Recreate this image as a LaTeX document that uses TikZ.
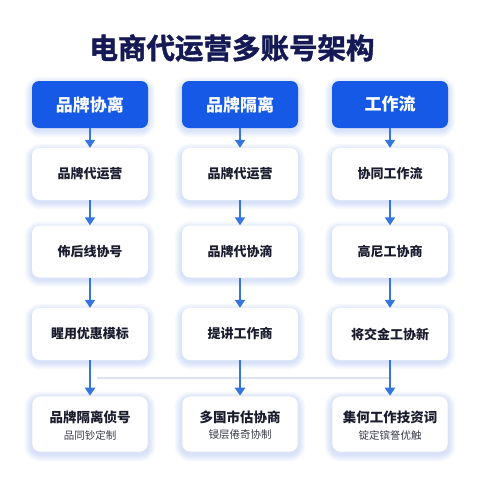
\documentclass[tikz,border=0pt]{standalone}
\usepackage{fontspec}
\newfontfamily\cjk{Noto Sans CJK SC}
\newfontfamily\cjkheavy[BoldFont={Noto Sans CJK SC Bold},BoldFeatures={FakeBold=1.6}]{Noto Sans CJK SC}
\usetikzlibrary{arrows.meta,backgrounds,calc}
\definecolor{hdrblue}{HTML}{1559E6}
\definecolor{arrblue}{HTML}{3575E0}
\definecolor{titlenavy}{HTML}{151A55}
\definecolor{txtdark}{HTML}{1A1C2E}
\definecolor{subgray}{HTML}{3A3C48}
\definecolor{shblue}{HTML}{6E96EA}
\definecolor{hline}{HTML}{DCE4F2}
\tikzset{
  hdr/.style={draw=none, fill=hdrblue, rounded corners=7pt, minimum width=116pt, minimum height=47pt,
    text=white, font=\cjk\bfseries\fontsize{17}{20}\selectfont, inner sep=0pt},
  card/.style={draw=none, fill=white, rounded corners=8pt, minimum width=116pt, minimum height=52pt,
    text=txtdark, font=\cjk\bfseries\fontsize{13}{16}\selectfont, inner sep=0pt},
  cardb/.style={card, minimum height=56pt, draw=hline, line width=0.6pt},
  flow/.style={draw=arrblue, line width=2.4pt, -{Triangle[width=10pt,length=8pt]}},
  shadowlayer/.style={fill=shblue, opacity=0.04},
  hlink/.style={draw=hline, line width=1.2pt},
}
\begin{document}
\begin{tikzpicture}[x=1pt,y=-1pt]
\useasboundingbox (0,0) rectangle (480,480);
\node[text=titlenavy, font=\cjkheavy\bfseries\fontsize{28.5}{32}\selectfont] (title) at (232,48) {电商代运营多账号架构};
% headers
\node[hdr] (h1) at (90,104.5) {品牌协离};
\node[hdr] (h2) at (240,104.5) {品牌隔离};
\node[hdr] (h3) at (390,104.5) {工作流};
% row 2
\node[card] (a1) at (90,174) {品牌代运营};
\node[card] (a2) at (240,174) {品牌代运营};
\node[card] (a3) at (390,174) {协同工作流};
% row 3
\node[card] (b1) at (90,251.5) {佈后线协号};
\node[card] (b2) at (240,251.5) {品牌代协滴};
\node[card] (b3) at (390,251.5) {高尼工协商};
% row 4
\node[card] (c1) at (90,334) {睲用优惠模标};
\node[card] (c2) at (240,334) {提讲工作商};
\node[card] (c3) at (390,334) {将交金工协新};
% row 5
\node[cardb] (d1) at (90,424) {};
\node[cardb] (d2) at (240,424) {};
\node[cardb] (d3) at (390,424) {};
\node[font=\cjk\bfseries\fontsize{13.5}{16}\selectfont, text=txtdark] (d1t) at (90,417) {品牌隔离侦号};
\node[font=\cjk\fontsize{10.5}{12}\selectfont, text=subgray] (d1s) at (90,435) {品同钞定制};
\node[font=\cjk\bfseries\fontsize{13.5}{16}\selectfont, text=txtdark] (d2t) at (240,417) {多国市估协商};
\node[font=\cjk\fontsize{10.5}{12}\selectfont, text=subgray] (d2s) at (240,435) {锓层倦奇协制};
\node[font=\cjk\bfseries\fontsize{13.5}{16}\selectfont, text=txtdark] (d3t) at (390,417) {集何工作技资词};
\node[font=\cjk\fontsize{10.5}{12}\selectfont, text=subgray] (d3s) at (390,435) {锭定镔詧优触};
% background and soft shadows
\begin{pgfonlayer}{background}
\fill[white] (0,0) rectangle (480,480);
\foreach \n in {h1,h2,h3,a1,a2,a3,b1,b2,b3,c1,c2,c3,d1,d2,d3}{
  \foreach \d in {1,...,7}{
    \fill[shadowlayer, rounded corners=8+\d]
      ($(\n.south west)+(-\d,\d+2)$) rectangle ($(\n.north east)+(\d,-\d+3)$);
  }
}
\end{pgfonlayer}
% horizontal link
\coordinate (m1) at (97,378);
\coordinate (m3) at (389,378);
\draw[hlink] (m1) -- (m3);
% arrows
\foreach \c in {1,2,3}{
  \draw[flow] (h\c.south) -- (a\c.north);
  \draw[flow] (a\c.south) -- (b\c.north);
  \draw[flow] (b\c.south) -- (c\c.north);
  \draw[flow] (c\c.south) -- (d\c.north);
}
\end{tikzpicture}
\end{document}
